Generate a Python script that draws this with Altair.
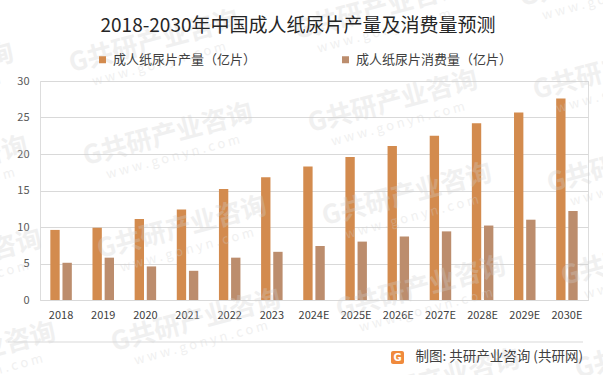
import altair as alt
import pandas as pd

years = ["2018", "2019", "2020", "2021", "2022", "2023", "2024E", "2025E",
         "2026E", "2027E", "2028E", "2029E", "2030E"]
production = [9.6, 9.9, 11.1, 12.4, 15.2, 16.8, 18.3, 19.6, 21.1, 22.5, 24.2, 25.7, 27.6]
consumption = [5.1, 5.8, 4.6, 4.0, 5.8, 6.6, 7.4, 8.0, 8.7, 9.4, 10.2, 11.0, 12.2]
series_names = ["成人纸尿片产量（亿片）", "成人纸尿片消费量（亿片）"]
colors = ["#D38B4E", "#BC8D6D"]
title_text = "2018-2030年中国成人纸尿片产量及消费量预测"
source_text = "制图: 共研产业咨询 (共研网)"
wm_main = "G共研产业咨询"
wm_sub = "w w w . g o n y n . c o m"

rows = []
for y, p, c in zip(years, production, consumption):
    rows.append({"year": y, "series": series_names[0], "value": p})
    rows.append({"year": y, "series": series_names[1], "value": c})
df = pd.DataFrame(rows)

FONT = "Noto Sans CJK SC"

# watermark tiling (decoration, in plot-group pixel coordinates)
wm = []
for c in range(0, 4):
    for r in range(-1, 5):
        cx = -71 + c * 225 + r * 14
        cy = 75 + r * 93 - c * 33
        if -110 < cx < 690 and -30 < cy < 400:
            wm.append({"x": cx - 40, "y": cy - 81, "t": wm_main,
                       "xs": cx - 35, "ys": cy - 59, "s": wm_sub})
wm_df = pd.DataFrame(wm)

bars = alt.Chart(df).mark_bar().encode(
    x=alt.X("year:N", sort=years, title=None,
            scale=alt.Scale(paddingInner=0.49, paddingOuter=0.245),
            axis=alt.Axis(labelAngle=0, labelFontSize=11, labelColor="#404040",
                          labelFont=FONT, ticks=False, domainColor="#d9d9d9",
                          labelPadding=9)),
    xOffset=alt.XOffset("series:N", sort=series_names,
                        scale=alt.Scale(paddingInner=0.23, paddingOuter=0)),
    y=alt.Y("value:Q", title=None,
            scale=alt.Scale(domain=[0, 30], nice=False),
            axis=alt.Axis(values=[0, 5, 10, 15, 20, 25, 30], labelFontSize=11,
                          labelColor="#595959", labelFont=FONT, ticks=False,
                          domain=False, gridColor="#d9d9d9", labelPadding=11)),
    color=alt.Color("series:N", sort=series_names,
                    scale=alt.Scale(domain=series_names, range=colors),
                    legend=alt.Legend(orient="none", legendX=56, legendY=-28,
                                      direction="horizontal", title=None,
                                      symbolType="square", symbolSize=49,
                                      symbolStrokeWidth=0, labelFontSize=13,
                                      labelFont=FONT, labelColor="#404040",
                                      columnPadding=82, labelLimit=300,
                                      symbolOffset=0, labelOffset=4)),
)

wm_main_layer = alt.Chart(wm_df).mark_text(
    align="center", baseline="middle", fontSize=26, fontWeight="bold", font=FONT,
    angle=345, color="#d0d0d0", opacity=0.3).encode(
    x=alt.X("x:Q", scale=None), y=alt.Y("y:Q", scale=None), text="t:N")

wm_sub_layer = alt.Chart(wm_df).mark_text(
    align="center", baseline="middle", fontSize=13, font=FONT,
    angle=345, color="#d0d0d0", opacity=0.3).encode(
    x=alt.X("xs:Q", scale=None), y=alt.Y("ys:Q", scale=None), text="s:N")

one = pd.DataFrame({"t": [source_text], "title": [title_text]})

title = alt.Chart(one).mark_text(align="center", baseline="middle", fontSize=19,
                                 font=FONT, color="#262626").encode(
    x=alt.value(258), y=alt.value(-55), text="title:N")

rule = alt.Chart(one).mark_rule(color="#d9d9d9", strokeWidth=1).encode(
    x=alt.value(-32), x2=alt.value(543), y=alt.value(261))

footer = alt.Chart(one).mark_text(align="right", baseline="middle", fontSize=13.5,
                                  font=FONT, color="#404040").encode(
    x=alt.value(543), y=alt.value(276), text="t:N")

logo = alt.Chart(one).mark_rect(color="#F08A3C", cornerRadius=2).encode(
    x=alt.value(351), x2=alt.value(364), y=alt.value(270), y2=alt.value(283))

logo_g = alt.Chart(one).mark_text(align="center", baseline="middle", fontSize=10,
                                  fontWeight="bold", font="DejaVu Sans",
                                  color="white").encode(
    x=alt.value(357.5), y=alt.value(276.5), text=alt.value("G"))

chart = alt.layer(bars, wm_main_layer, wm_sub_layer, title, rule, footer, logo,
                  logo_g).properties(
    width=548, height=219,
    autosize=alt.AutoSizeParams(type="none"),
    padding={"left": 40, "top": 81, "right": 15, "bottom": 75},
).configure_view(stroke=None).configure(background="white")

chart.save("out.html", embed_options={"renderer": "svg", "actions": False})
